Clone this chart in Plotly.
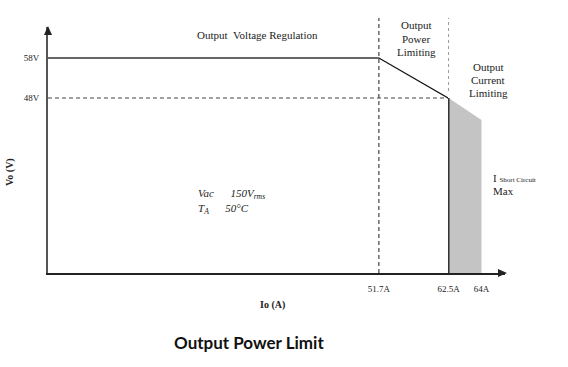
import plotly.graph_objects as go

# ---- data (schematic values) ----
io_breaks = [0, 51.7, 62.5]          # A
vo_curve = [58, 58, 48]              # V
v_limit = 48                          # V, constant-power end point
i_short_max = 64                      # A
v_short_end = 42.5                    # V
y_tick_vals = [58, 48]
y_tick_text = ["58V", "48V"]
x1_tick_vals = [51.7]
x1_tick_text = ["51.7A"]
x2_tick_vals = [62.5, 64]
x2_tick_text = ["62.5A", "64A"]

SERIF = "Liberation Serif, Times New Roman, serif"
AX = "#555555"

fig = go.Figure()

# grey short-circuit region
fig.add_trace(go.Scatter(x=[io_breaks[2], i_short_max], y=[v_limit, v_short_end],
                         xaxis="x2", yaxis="y", mode="lines", fill="tozeroy",
                         fillcolor="#c4c4c4", line=dict(width=0), hoverinfo="skip"))
# vertical current-limit line
fig.add_trace(go.Scatter(x=[io_breaks[2], io_breaks[2]], y=[v_limit, 0],
                         xaxis="x2", yaxis="y", mode="lines",
                         line=dict(color="#333333", width=2), hoverinfo="skip"))
# 48V dashed reference
fig.add_trace(go.Scatter(x=[io_breaks[0], io_breaks[2]], y=[v_limit, v_limit],
                         mode="lines", line=dict(color="#444444", width=1.2, dash="4px,3px"),
                         hoverinfo="skip"))
# 58V regulation line
fig.add_trace(go.Scatter(x=io_breaks[:2], y=vo_curve[:2], mode="lines",
                         line=dict(color="#666666", width=2.2), hoverinfo="skip"))
# power limiting slope
fig.add_trace(go.Scatter(x=io_breaks[1:], y=vo_curve[1:], mode="lines",
                         line=dict(color="#111111", width=1.2), hoverinfo="skip"))


def px(xp):
    return (xp - 48) / 457


def py(yp):
    return (273 - yp) / 246


def tri(points):
    pts = " L ".join(f"{px(a):.5f},{py(b):.5f}" for a, b in points)
    return f"M {pts} Z"


shapes = [
    dict(type="line", xref="x", yref="paper", x0=io_breaks[1], x1=io_breaks[1],
         y0=0, y1=1.037, line=dict(color="#444444", width=1.2, dash="4px,3px")),
    dict(type="line", xref="x2", yref="paper", x0=io_breaks[2], x1=io_breaks[2],
         y0=0.74, y1=1.037, line=dict(color="#999999", width=1, dash="dot")),
    # axis arrowheads
    dict(type="path", xref="paper", yref="paper", path=tri([(48, 26), (44, 35), (52, 35)]),
         fillcolor="#222222", line=dict(width=0)),
    dict(type="path", xref="paper", yref="paper", path=tri([(507, 273), (498, 269), (498, 277)]),
         fillcolor="#222222", line=dict(width=0)),
]


def label(x, y, text, size=11, anchor="center", family=SERIF, angle=0, color="#222"):
    return dict(x=px(x), y=py(y), xref="paper", yref="paper", text=text,
                showarrow=False, xanchor=anchor, yanchor="middle", textangle=angle,
                font=dict(family=family, size=size, color=color))


d = (448 - 48) / 457
annotations = [
    label(257, 35, "Output&nbsp;&nbsp;Voltage Regulation"),
    label(416, 25, "Output"), label(416, 39, "Power"), label(416, 52, "Limiting"),
    label(488, 67, "Output"), label(488, 80, "Current"), label(488, 93, "Limiting"),
    label(196, 194, "<i>Vac</i>&nbsp;&nbsp;&nbsp;&nbsp;&nbsp;&nbsp;<i>150V<sub>rms</sub></i>",
          size=11, anchor="left"),
    label(196, 209, "<i>T<sub>A</sub></i>&nbsp;&nbsp;&nbsp;&nbsp;&nbsp;&nbsp;<i>50°C</i>",
          size=11, anchor="left"),
    label(491, 178, "I <span style='font-size:7px'>Short Circuit</span>", anchor="left"),
    label(491, 191, "Max", anchor="left"),
    label(10, 172, "<b>Vo (V)</b>", size=10, angle=-90),
    label(272, 305, "<b>Io (A)</b>", size=10),
    label(249, 342, "<b>Output Power Limit</b>", size=17,
          family="Lato, Open Sans, sans-serif", color="#111"),
]

fig.update_layout(
    width=568, height=367,
    margin=dict(l=48, r=63, t=27, b=94, autoexpand=False),
    paper_bgcolor="white", plot_bgcolor="white",
    showlegend=False,
    xaxis=dict(domain=[0, d], range=[0, 62.5], showgrid=False, zeroline=False,
               showline=True, linecolor="#222222", linewidth=1.5,
               tickvals=x1_tick_vals, ticktext=x1_tick_text, ticks="",
               tickfont=dict(family=SERIF, size=9, color="#222"), ticklabelstandoff=6),
    xaxis2=dict(domain=[d, 1], range=[62.475, 65.07], showgrid=False, zeroline=False,
                showline=True, linecolor="#222222", linewidth=1.5, anchor="y",
                tickvals=x2_tick_vals, ticktext=x2_tick_text, ticks="",
                tickfont=dict(family=SERIF, size=9, color="#222"), ticklabelstandoff=6),
    yaxis=dict(range=[4.25, 65.75], showgrid=False, zeroline=False,
               showline=True, linecolor=AX, linewidth=2,
               tickvals=y_tick_vals, ticktext=y_tick_text, ticks="",
               tickfont=dict(family=SERIF, size=9, color="#222"), ticklabelstandoff=5),
    shapes=shapes,
    annotations=annotations,
)

fig.write_html("out.html", config={"displayModeBar": False},
               post_script="document.body.style.margin='0';")
